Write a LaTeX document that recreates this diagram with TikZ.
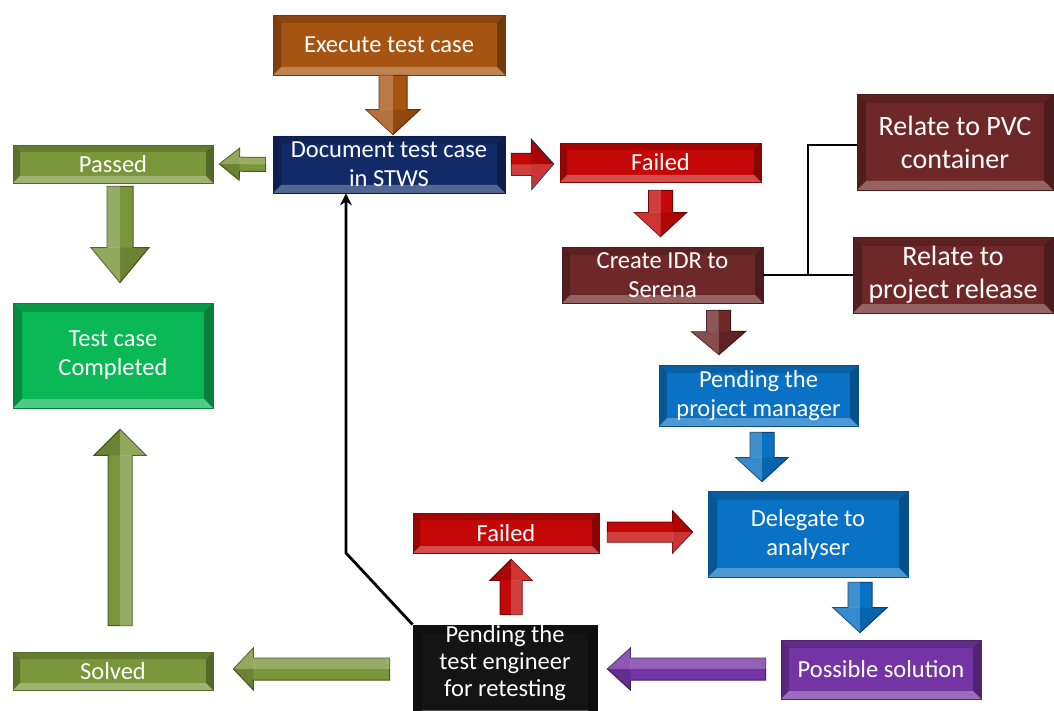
\documentclass[tikz,border=0pt]{standalone}
\usepackage{fontspec}
\setmainfont{Carlito}
\usetikzlibrary{calc,arrows.meta}

\definecolor{execc}{RGB}{166,84,18}
\definecolor{navyc}{RGB}{18,42,104}
\definecolor{redc}{RGB}{196,8,8}
\definecolor{maroonc}{RGB}{110,40,40}
\definecolor{bluec}{RGB}{10,114,196}
\definecolor{purplec}{RGB}{116,52,164}
\definecolor{inkc}{RGB}{20,20,20}
\definecolor{olivec}{RGB}{122,150,58}
\definecolor{greenc}{RGB}{10,184,86}

\tikzset{
  bevelbox/.style 2 args={rectangle, fill=#1, draw=#1!70!black, line width=0.8pt,
    text=white, align=center, inner sep=0pt,
    font=\fontsize{24.5}{29}\selectfont,
    path picture={
      \coordinate (pnw) at (path picture bounding box.north west);
      \coordinate (pne) at (path picture bounding box.north east);
      \coordinate (psw) at (path picture bounding box.south west);
      \coordinate (pse) at (path picture bounding box.south east);
      \fill[black, opacity=.16] (pnw) -- (pne) -- ([xshift=-#2,yshift=-#2]pne) -- ([xshift=#2,yshift=-#2]pnw) -- cycle;
      \fill[black, opacity=.24] (pnw) -- (psw) -- ([xshift=#2,yshift=#2]psw) -- ([xshift=#2,yshift=-#2]pnw) -- cycle;
      \fill[black, opacity=.30] (pne) -- (pse) -- ([xshift=-#2,yshift=#2]pse) -- ([xshift=-#2,yshift=-#2]pne) -- cycle;
      \fill[white, opacity=.28] (psw) -- (pse) -- ([xshift=-#2,yshift=#2]pse) -- ([xshift=#2,yshift=#2]psw) -- cycle;
    }},
  bigtext/.style={font=\fontsize{28}{33}\selectfont},
  tighttext/.style={font=\fontsize{24.5}{27}\selectfont},
  link/.style={line width=2.8pt, draw=black, line join=miter},
}

% Bevelled block arrow from #1 (tail) to #2 (tip): shaft half width #3,
% head half width #4, head length #5, fill colour #6, outline colour #7
\newcommand\blockarrow[7]{%
  \coordinate (ba-n) at ($(#2)!#5!(#1)$);
  \filldraw[fill=#6, draw=#7, line width=1pt, line join=miter]
    ($(#1)!#3!90:(#2)$) -- ($(ba-n)!#3!-90:(#1)$) -- ($(ba-n)!#4!-90:(#1)$) -- (#2)
    -- ($(ba-n)!#4!90:(#1)$) -- ($(ba-n)!#3!90:(#1)$) -- ($(#1)!#3!-90:(#2)$) -- cycle;
  \fill[white, opacity=.22] (#1) -- (ba-n) -- ($(ba-n)!#3!90:(#1)$) -- ($(#1)!#3!-90:(#2)$) -- cycle;
  \fill[black, opacity=.12] ($(ba-n)!#4!-90:(#1)$) -- (#2) -- (ba-n) -- cycle;
  \fill[white, opacity=.18] ($(ba-n)!#4!90:(#1)$) -- (#2) -- (ba-n) -- cycle;
}

\begin{document}
\begin{tikzpicture}[x=1pt, y=-1pt]
\useasboundingbox (0,0) rectangle (1054,711);

% process boxes
\node[bevelbox={execc}{8pt}, minimum width=232pt, minimum height=60pt] (exec) at (389,45) {Execute test case};
\node[bevelbox={navyc}{8pt}, minimum width=232pt, minimum height=57pt] (doc) at (389,164.5) {Document test case\\in STWS};
\node[bevelbox={redc}{7pt}, minimum width=201pt, minimum height=39pt] (fail1) at (660.5,162.5) {Failed};
\node[bevelbox={maroonc}{8pt}, minimum width=201pt, minimum height=56pt] (idr) at (662.5,275) {Create IDR to\\Serena};
\node[bevelbox={maroonc}{9pt}, bigtext, minimum width=196pt, minimum height=96pt] (pvc) at (955,142) {Relate to PVC\\container};
\node[bevelbox={maroonc}{9pt}, bigtext, minimum width=200pt, minimum height=76pt] (rel) at (953,275) {Relate to\\project release};
\node[bevelbox={bluec}{8pt}, minimum width=199pt, minimum height=61pt] (pm) at (758.5,395.5) {Pending the\\project manager};
\node[bevelbox={bluec}{9pt}, minimum width=200pt, minimum height=86pt] (dele) at (808,534) {Delegate to\\analyser};
\node[bevelbox={purplec}{8pt}, minimum width=200pt, minimum height=59pt] (poss) at (881,669.5) {Possible solution};
\node[bevelbox={redc}{7pt}, minimum width=186pt, minimum height=40pt] (fail2) at (506,533) {Failed};
\node[bevelbox={inkc}{9pt}, tighttext, minimum width=184pt, minimum height=94pt] (eng) at (505,672) {Pending the\\test engineer\\for retesting\\[-4pt]\mbox{}};
\node[bevelbox={olivec}{7pt}, minimum width=200pt, minimum height=38pt] (passed) at (113,164) {Passed};
\node[bevelbox={greenc}{9pt}, minimum width=200pt, minimum height=105pt] (compl) at (113,355.5) {Test case\\Completed};
\node[bevelbox={olivec}{7pt}, minimum width=200pt, minimum height=38pt] (solved) at (113,671) {Solved};

% block arrow end points
\coordinate (a1t) at ($(exec.south)+(4,0)$);   \coordinate (a1h) at ($(doc.north)+(4,-1)$);
\coordinate (a2t) at ($(doc.east)+(6,0)$);     \coordinate (a2h) at ($(fail1.west)+(-6,1.5)$);
\coordinate (a3t) at ($(fail1.south)+(0,8)$);  \coordinate (a3h) at ($(idr.north)+(-2,-10)$);
\coordinate (a4t) at ($(idr.south)+(56,7)$);   \coordinate (a4h) at ($(pm.north)+(-39.5,-10)$);
\coordinate (a5t) at ($(pm.south)+(3.5,6)$);   \coordinate (a5h) at ($(dele.north)+(-46,-9)$);
\coordinate (a6t) at ($(dele.south)+(52,5)$);  \coordinate (a6h) at ($(poss.north)+(-21,-7)$);
\coordinate (a7t) at ($(poss.west)+(-15,-0.5)$); \coordinate (a7h) at ($(eng.east)+(10,-3)$);
\coordinate (a8t) at ($(eng.north)+(6,-10)$);  \coordinate (a8h) at ($(fail2.south)+(5,6)$);
\coordinate (a9t) at ($(fail2.east)+(8,-1)$);  \coordinate (a9h) at ($(dele.west)+(-15,-2)$);
\coordinate (b1t) at ($(doc.west)+(-7,0)$);    \coordinate (b1h) at ($(passed.east)+(6,0)$);
\coordinate (b2t) at ($(passed.south)+(7,3)$); \coordinate (b2h) at ($(compl.north)+(7,-20)$);
\coordinate (b3t) at ($(solved.north)+(7,-26)$); \coordinate (b3h) at ($(compl.south)+(7,21)$);
\coordinate (b4t) at ($(eng.west)+(-23,-3)$);  \coordinate (b4h) at ($(solved.east)+(20,-2)$);

% block arrows
\blockarrow{a1t}{a1h}{14pt}{27pt}{25pt}{execc}{execc!60!black}
\blockarrow{a2t}{a2h}{11pt}{25pt}{22pt}{redc}{navyc}
\blockarrow{a3t}{a3h}{12pt}{26pt}{24pt}{redc}{redc!60!black}
\blockarrow{a4t}{a4h}{12pt}{27pt}{23pt}{maroonc}{maroonc!60!black}
\blockarrow{a5t}{a5h}{12pt}{26pt}{24pt}{bluec}{bluec!60!black}
\blockarrow{a6t}{a6h}{12pt}{27pt}{25pt}{bluec}{bluec!60!black}
\blockarrow{a7t}{a7h}{11pt}{21pt}{23pt}{purplec}{purplec!60!black}
\blockarrow{a8t}{a8h}{11pt}{21pt}{21pt}{redc}{redc!60!black}
\blockarrow{a9t}{a9h}{10pt}{21pt}{20pt}{redc}{redc!60!black}
\blockarrow{b1t}{b1h}{7pt}{16pt}{20pt}{olivec}{olivec!60!black}
\blockarrow{b2t}{b2h}{13pt}{29pt}{35pt}{olivec}{olivec!60!black}
\blockarrow{b3t}{b3h}{12pt}{26pt}{26pt}{olivec}{olivec!60!black}
\blockarrow{b4t}{b4h}{11pt}{21pt}{20pt}{olivec}{olivec!60!black}

% IDR relations
\coordinate (jn) at ($(idr.east)!0.5!(rel.west)$);
\draw[link] (idr.east) -- (rel.west);
\draw[link] (jn) |- ($(pvc.west)+(0,3)$);

% retest loop back to documentation
\coordinate (bend) at (346,553);
\draw[link, -{Stealth[length=12pt,width=12pt]}] (eng.north west) -- (bend) -- (bend |- doc.south);
\end{tikzpicture}
\end{document}
